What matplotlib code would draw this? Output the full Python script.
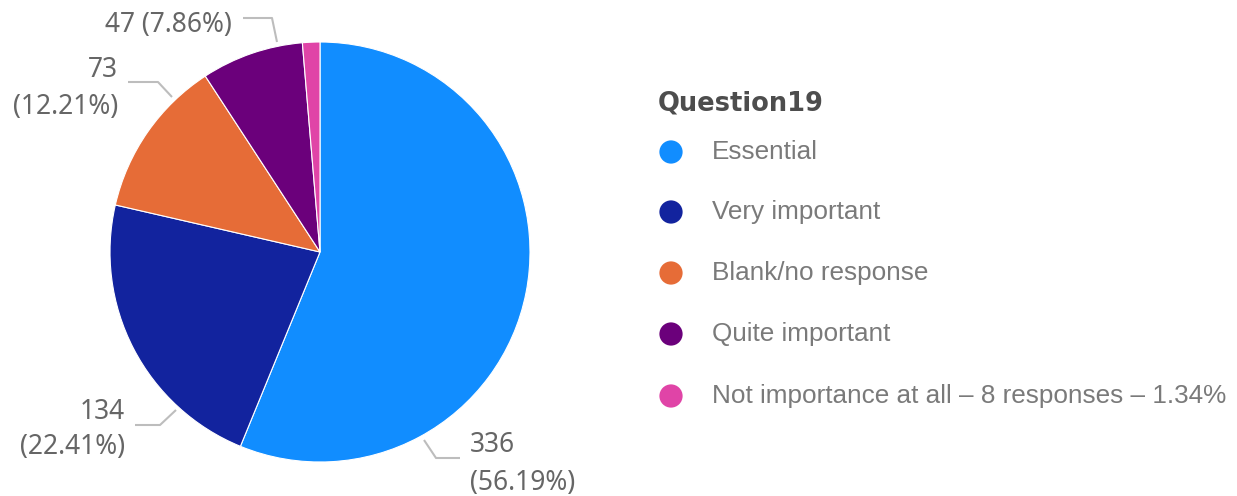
import matplotlib.pyplot as plt

# responses per category
categories = ["Essential", "Very important", "Blank/no response", "Quite important",
              "Not importance at all \u2013 8 responses \u2013 1.34%"]
counts = [336, 134, 73, 47, 8]
percents = ["56.19%", "22.41%", "12.21%", "7.86%", "1.34%"]
colors = ["#118DFF", "#12239E", "#E66C37", "#6B007B", "#E044A7"]

H = 496
fig = plt.figure(figsize=(12.37, 4.96), dpi=100)
ax = fig.add_axes([0, 0, 1, 1])

cx, cy, r = 320, H - 252, 210
ax.pie(counts, colors=colors, startangle=90, counterclock=False,
       center=(cx, cy), radius=r,
       wedgeprops=dict(edgecolor="white", linewidth=0.8))

ax.set_xlim(0, 1237)
ax.set_ylim(0, H)
ax.set_aspect("equal")
ax.axis("off")

label_col = "#666666"
line_col = "#BDBDBD"
lfont = dict(family="Noto Sans", fontsize=19, color=label_col)

def px(x, y):
    return x, H - y

# leader lines (pixel coords)
leaders = {
    0: [(424, 440), (436, 458), (460, 458)],
    1: [(176, 410), (160, 425), (135, 425)],
    2: [(172, 97), (158, 82), (128, 82)],
    3: [(277, 42), (272, 18), (243, 18)],
}
for i, pts in leaders.items():
    xs, ys = zip(*[px(*p) for p in pts])
    ax.plot(xs, ys, color=line_col, lw=1.5, solid_capstyle="butt")

ax.text(*px(470, 445), f"{counts[0]}", ha="left", va="center", **lfont)
ax.text(*px(470, 483), f"({percents[0]})", ha="left", va="center", **lfont)
ax.text(*px(125, 412), f"{counts[1]}", ha="right", va="center", **lfont)
ax.text(*px(125, 447), f"({percents[1]})", ha="right", va="center", **lfont)
ax.text(*px(118, 70), f"{counts[2]}", ha="right", va="center", **lfont)
ax.text(*px(118, 107), f"({percents[2]})", ha="right", va="center", **lfont)
ax.text(*px(232, 25), f"{counts[3]} ({percents[3]})", ha="right", va="center", **lfont)

# legend
ax.text(*px(658, 103), "Question19", ha="left", va="center", family="DejaVu Sans",
        fontsize=18.5, fontweight="bold", color="#4D4D4D")
row_y = [152, 212, 273, 334, 396]
for name, col, y in zip(categories, colors, row_y):
    ax.scatter(*px(671, y), s=280, color=col, edgecolors="none")
    ax.text(*px(712, y), name, ha="left", va="center", family="Liberation Sans",
            fontsize=18.8, color="#7A7A7A")

plt.savefig("out.png", dpi=100)
